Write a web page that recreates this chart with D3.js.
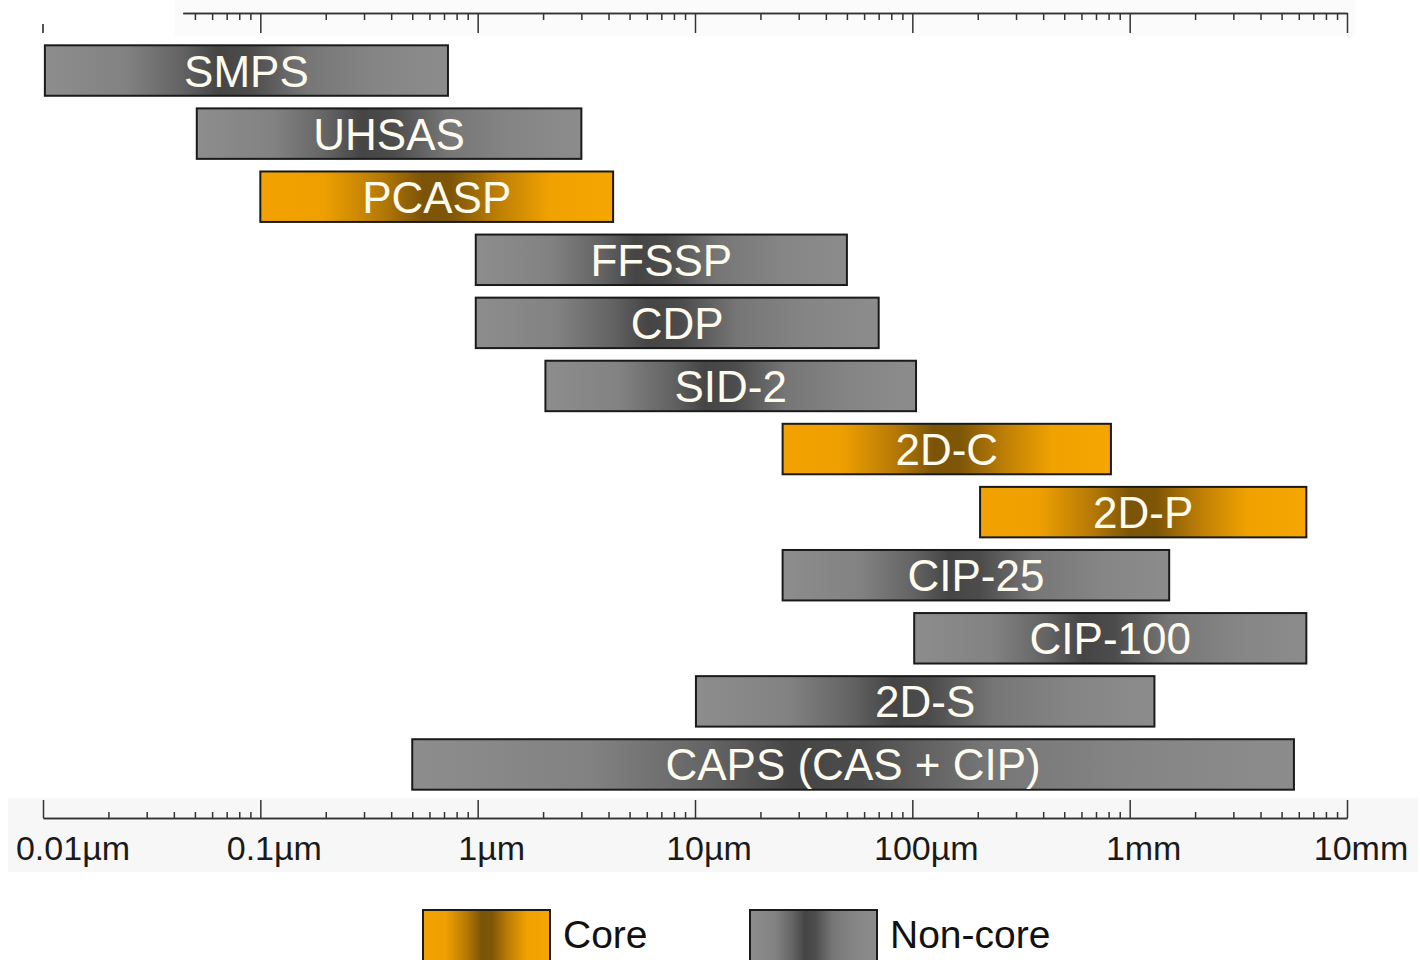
<!DOCTYPE html>
<html>
<head>
<meta charset="utf-8">
<script src="https://cdn.jsdelivr.net/npm/d3@7"></script>
<style>
  html, body { margin: 0; padding: 0; background: #fff; }
  svg { display: block; font-family: "Liberation Sans", Arial, sans-serif; }
</style>
</head>
<body>
<div id="chart"></div>
<script>
// instrument names, size ranges in micrometres, and core / non-core flag
const instruments = ["SMPS", "UHSAS", "PCASP", "FFSSP", "CDP", "SID-2", "2D-C", "2D-P", "CIP-25", "CIP-100", "2D-S", "CAPS (CAS + CIP)"];
const minSize = [0.0102, 0.051, 0.1, 0.98, 0.98, 2.05, 25.3, 205, 25.3, 102, 10.1, 0.5];
const maxSize = [0.73, 3, 4.2, 50, 70, 104, 820, 6500, 1520, 6500, 1300, 5700];
const isCore = [false, false, true, false, false, false, true, true, false, false, false, false];

// axis ticks (micrometres) and their labels
const majorTicks = [0.01, 0.1, 1, 10, 100, 1000, 10000];
const tickLabels = ["0.01\u00b5m", "0.1\u00b5m", "1\u00b5m", "10\u00b5m", "100\u00b5m", "1mm", "10mm"];
const legendLabels = ["Core", "Non-core"];

const width = 1420, height = 960;

const svg = d3.select("#chart").append("svg")
    .attr("width", width)
    .attr("height", height);

const x = d3.scaleLog()
    .domain([0.01, 10000])
    .range([43, 1347]);

const y = d3.scaleBand()
    .domain(instruments)
    .range([39, 796])
    .paddingInner(0.2)
    .paddingOuter(0.1);

// gradients
const defs = svg.append("defs");
function addGradient(id, stops) {
    const g = defs.append("linearGradient").attr("id", id)
        .attr("x1", "0%").attr("x2", "100%").attr("y1", "0%").attr("y2", "0%");
    stops.forEach(s => g.append("stop").attr("offset", s[0]).attr("stop-color", s[1]));
}
addGradient("grayGrad", [
    ["0%", "#8d8d8d"], ["20%", "#828282"], ["34%", "#636363"], ["43%", "#454545"],
    ["51%", "#4c4c4c"], ["65%", "#767676"], ["82%", "#858585"], ["100%", "#8c8c8c"]
]);
addGradient("orangeGrad", [
    ["0%", "#f3a200"], ["18%", "#eea000"], ["34%", "#b77a06"], ["46%", "#7c5408"],
    ["54%", "#7e5606"], ["68%", "#c08006"], ["82%", "#f0a200"], ["100%", "#f5a600"]
]);

// light background bands behind the axes
svg.append("rect")
    .attr("x", 8).attr("y", 798).attr("width", 1410).attr("height", 74)
    .attr("fill", "#f7f7f7");
svg.append("rect")
    .attr("x", 175).attr("y", 0).attr("width", 1180).attr("height", 36)
    .attr("fill", "#fbfbfb");

// minor tick values, 2..9 within each decade
const minorTicks = [];
majorTicks.slice(0, -1).forEach(d => {
    for (let k = 2; k <= 9; k++) minorTicks.push(d * k);
});

// bottom axis
const bottomY = 818;
const bottomMinor = svg.append("g")
    .attr("transform", `translate(0,${bottomY})`)
    .call(d3.axisBottom(x).tickValues(minorTicks).tickSize(-6).tickSizeOuter(0).tickFormat(""));
const bottomMajor = svg.append("g")
    .attr("transform", `translate(0,${bottomY})`)
    .call(d3.axisBottom(x).tickValues(majorTicks).tickSize(-18).tickSizeOuter(0).tickFormat(""));
[bottomMinor, bottomMajor].forEach(g => {
    g.selectAll("path, line").attr("stroke", "#333").attr("stroke-width", 1.5);
});

svg.append("g").selectAll("text")
    .data(majorTicks)
    .join("text")
    .attr("x", (d, i) => i === 0 ? 73 : x(d) + 14)
    .attr("y", 860)
    .attr("text-anchor", "middle")
    .attr("font-size", 34)
    .attr("fill", "#1a1a1a")
    .text((d, i) => tickLabels[i]);

// top axis, starting a bit right of the left edge
const topStart = 0.044;
const xTop = x.copy().domain([topStart, 10000]).range([x(topStart), x(10000)]);
const topY = 13;
const topMinor = svg.append("g")
    .attr("transform", `translate(0,${topY})`)
    .call(d3.axisBottom(xTop).tickValues(minorTicks.filter(d => d > topStart)).tickSize(7).tickSizeOuter(0).tickFormat(""));
const topMajor = svg.append("g")
    .attr("transform", `translate(0,${topY})`)
    .call(d3.axisBottom(xTop).tickValues(majorTicks.filter(d => d > topStart)).tickSize(20).tickSizeOuter(0).tickFormat(""));
[topMinor, topMajor].forEach(g => {
    g.selectAll("path, line").attr("stroke", "#333").attr("stroke-width", 1.5);
});
// stray stub at 0.01
svg.append("line")
    .attr("x1", x(0.01)).attr("x2", x(0.01))
    .attr("y1", 24).attr("y2", 33)
    .attr("stroke", "#555").attr("stroke-width", 2);

// bars
const rows = instruments.map((name, i) => ({ name, lo: minSize[i], hi: maxSize[i], core: isCore[i] }));

const bar = svg.append("g").selectAll("g")
    .data(rows)
    .join("g");

bar.append("rect")
    .attr("x", d => x(d.lo))
    .attr("y", d => y(d.name))
    .attr("width", d => x(d.hi) - x(d.lo))
    .attr("height", y.bandwidth())
    .attr("fill", d => d.core ? "url(#orangeGrad)" : "url(#grayGrad)")
    .attr("stroke", "#1a1a1a")
    .attr("stroke-width", 2);

bar.append("text")
    .attr("x", d => (x(d.lo) + x(d.hi)) / 2)
    .attr("y", d => y(d.name) + y.bandwidth() / 2 + 16)
    .attr("text-anchor", "middle")
    .attr("font-size", 44)
    .attr("fill", "#fdfbee")
    .text(d => d.name);

// legend
const legend = svg.append("g");
const legendX = [423, 750];
legendLabels.forEach((label, i) => {
    legend.append("rect")
        .attr("x", legendX[i]).attr("y", 910)
        .attr("width", 127).attr("height", 70)
        .attr("fill", i === 0 ? "url(#orangeGrad)" : "url(#grayGrad)")
        .attr("stroke", "#1a1a1a").attr("stroke-width", 2);
    legend.append("text")
        .attr("x", legendX[i] + 140).attr("y", 948)
        .attr("font-size", 39)
        .attr("fill", "#111")
        .text(label);
});
</script>
</body>
</html>
